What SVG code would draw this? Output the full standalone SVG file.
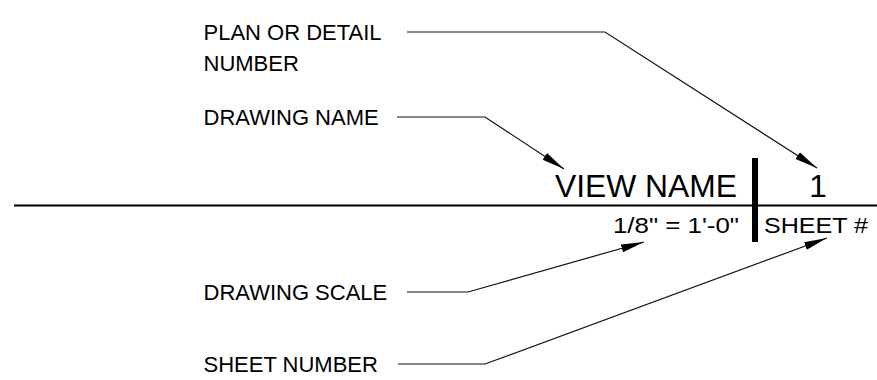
<svg xmlns="http://www.w3.org/2000/svg" width="877" height="380" viewBox="0 0 877 380">
<style>
.lbl{font-family:"Liberation Sans",Arial,Helvetica,sans-serif;font-size:22px;fill:#000}
.big{font-family:"Liberation Sans",Arial,Helvetica,sans-serif;font-size:31.5px;fill:#000}
.sm{font-family:"Liberation Sans",Arial,Helvetica,sans-serif;font-size:22.5px;fill:#000}
.leader{fill:none;stroke:#111;stroke-width:1.2;marker-end:url(#arr)}
</style>
<defs>
<marker id="arr" markerUnits="userSpaceOnUse" markerWidth="24" markerHeight="10" viewBox="0 0 24 10" refX="23" refY="5" orient="auto">
<path d="M0,1 L23,5 L0,9 Z" fill="#000"/>
</marker>
</defs>
<g id="title-mark">
<line x1="14" y1="205.5" x2="877" y2="205.5" stroke="#000" stroke-width="2.2"/>
<rect x="752" y="158" width="6" height="84" fill="#000"/>
<text class="big" x="737" y="196.5" text-anchor="end" textLength="182" lengthAdjust="spacingAndGlyphs">VIEW NAME</text>
<text class="big" x="818" y="196.5" text-anchor="middle">1</text>
<text class="sm" x="613" y="233.3" textLength="126" lengthAdjust="spacingAndGlyphs">1/8" = 1'-0"</text>
<text class="sm" x="764" y="233.3" textLength="104" lengthAdjust="spacingAndGlyphs">SHEET #</text>
</g>
<g id="label-plan">
<text class="lbl" x="203.5" y="40">PLAN OR DETAIL</text>
<text class="lbl" x="203.5" y="71">NUMBER</text>
</g>
<g id="label-drawing-name">
<text class="lbl" x="203.5" y="125">DRAWING NAME</text>
</g>
<g id="label-drawing-scale">
<text class="lbl" x="203.5" y="300">DRAWING SCALE</text>
</g>
<g id="label-sheet-number">
<text class="lbl" x="203.5" y="372">SHEET NUMBER</text>
</g>
<g id="connectors">
<polyline class="leader" points="407,32 605,32 817,168"/>
<polyline class="leader" points="397,117 485,117 564,169"/>
<polyline class="leader" points="407,292 468,292 644,242"/>
<polyline class="leader" points="398,364 485,364 827,238"/>
</g>
</svg>
